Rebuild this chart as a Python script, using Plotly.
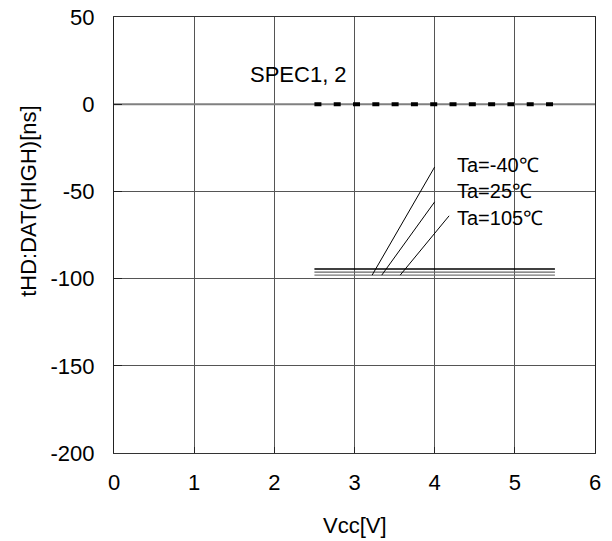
import plotly.graph_objects as go

# Data
spec_x = [2.5, 5.5]
spec_y = [0, 0]
vcc = [2.5, 5.5]
t_m40 = [-94.5, -94.5]
t_25 = [-96.3, -96.3]
t_105 = [-98, -98]
series_names = ["Ta=-40℃", "Ta=25℃", "Ta=105℃"]
series_colors = ["#000000", "#666666", "#777777"]
label_y = [-35, -50, -65]
leader_start_x = [3.22, 3.34, 3.57]
leader_start_y = [-98, -98, -98]
leader_end_x = [4.0, 4.0, 4.18]
leader_end_y = [-36, -56, -64]
x_ticks = [0, 1, 2, 3, 4, 5, 6]
y_ticks = [50, 0, -50, -100, -150, -200]
y_ticktext = ["50", "0", "-50", "-100", "-150", "-200"]

FONT = "Liberation Sans, Arial, sans-serif"
FS = 22
fig = go.Figure()

# gray zero line across plot
fig.add_trace(go.Scatter(x=[0, 6], y=[0, 0], mode="lines",
                         line=dict(color="#808080", width=2), showlegend=False, hoverinfo="skip"))
# spec line: black dashes over gray
fig.add_trace(go.Scatter(x=spec_x, y=spec_y, mode="lines",
                         line=dict(color="#000000", width=4, dash="7px,12.3px"), showlegend=False))

for ys, c, n in zip([t_m40, t_25, t_105], series_colors, series_names):
    fig.add_trace(go.Scatter(x=vcc, y=ys, mode="lines", name=n,
                             line=dict(color=c, width=1.3), showlegend=False))

for i, n in enumerate(series_names):
    fig.add_shape(type="line", x0=leader_start_x[i], y0=leader_start_y[i],
                  x1=leader_end_x[i], y1=leader_end_y[i],
                  line=dict(color="black", width=1))
    fig.add_annotation(x=4.25, y=label_y[i], text=n,
                       showarrow=False, xanchor="left", yanchor="middle",
                       font=dict(family=FONT, size=20, color="black"))

fig.add_annotation(x=2.3, y=17, text="SPEC1, 2", showarrow=False,
                   xanchor="center", yanchor="middle",
                   font=dict(family=FONT, size=FS, color="black"))

# axis titles
fig.add_annotation(xref="paper", yref="paper", x=0.5, y=-0.167, text="Vcc[V]",
                   showarrow=False, xanchor="center", yanchor="middle",
                   font=dict(family=FONT, size=FS, color="black"))
fig.add_annotation(xref="paper", yref="paper", x=-0.177, y=0.578, text="tHD:DAT(HIGH)[ns]",
                   textangle=-90, showarrow=False, xanchor="center", yanchor="middle",
                   font=dict(family=FONT, size=FS, color="black"))

fig.update_xaxes(range=[0, 6], tickvals=x_ticks, showgrid=True, gridcolor="#555555",
                 gridwidth=1, showline=True, linecolor="#333333", mirror=True,
                 zeroline=False, ticks="inside", ticklen=6, tickcolor="#222222",
                 ticklabelstandoff=10, ticklabeloverflow="allow", automargin=False,
                 tickfont=dict(family=FONT, size=FS, color="black"))
fig.update_yaxes(range=[-200, 50], tickvals=y_ticks, ticktext=y_ticktext, showgrid=True,
                 gridcolor="#555555", gridwidth=1, showline=True, linecolor="#222222", mirror=True,
                 zeroline=False, ticks="inside", ticklen=8, tickcolor="#222222",
                 ticklabelstandoff=14, ticklabeloverflow="allow", automargin=False,
                 tickfont=dict(family=FONT, size=FS, color="black"))

fig.update_layout(width=612, height=541,
                  margin=dict(l=114, r=17, t=17, b=88, autoexpand=False),
                  plot_bgcolor="white", paper_bgcolor="white", showlegend=False)

fig.write_html("out.html", config={"displayModeBar": False},
               post_script="document.body.style.margin='0';document.body.style.overflow='hidden';")
